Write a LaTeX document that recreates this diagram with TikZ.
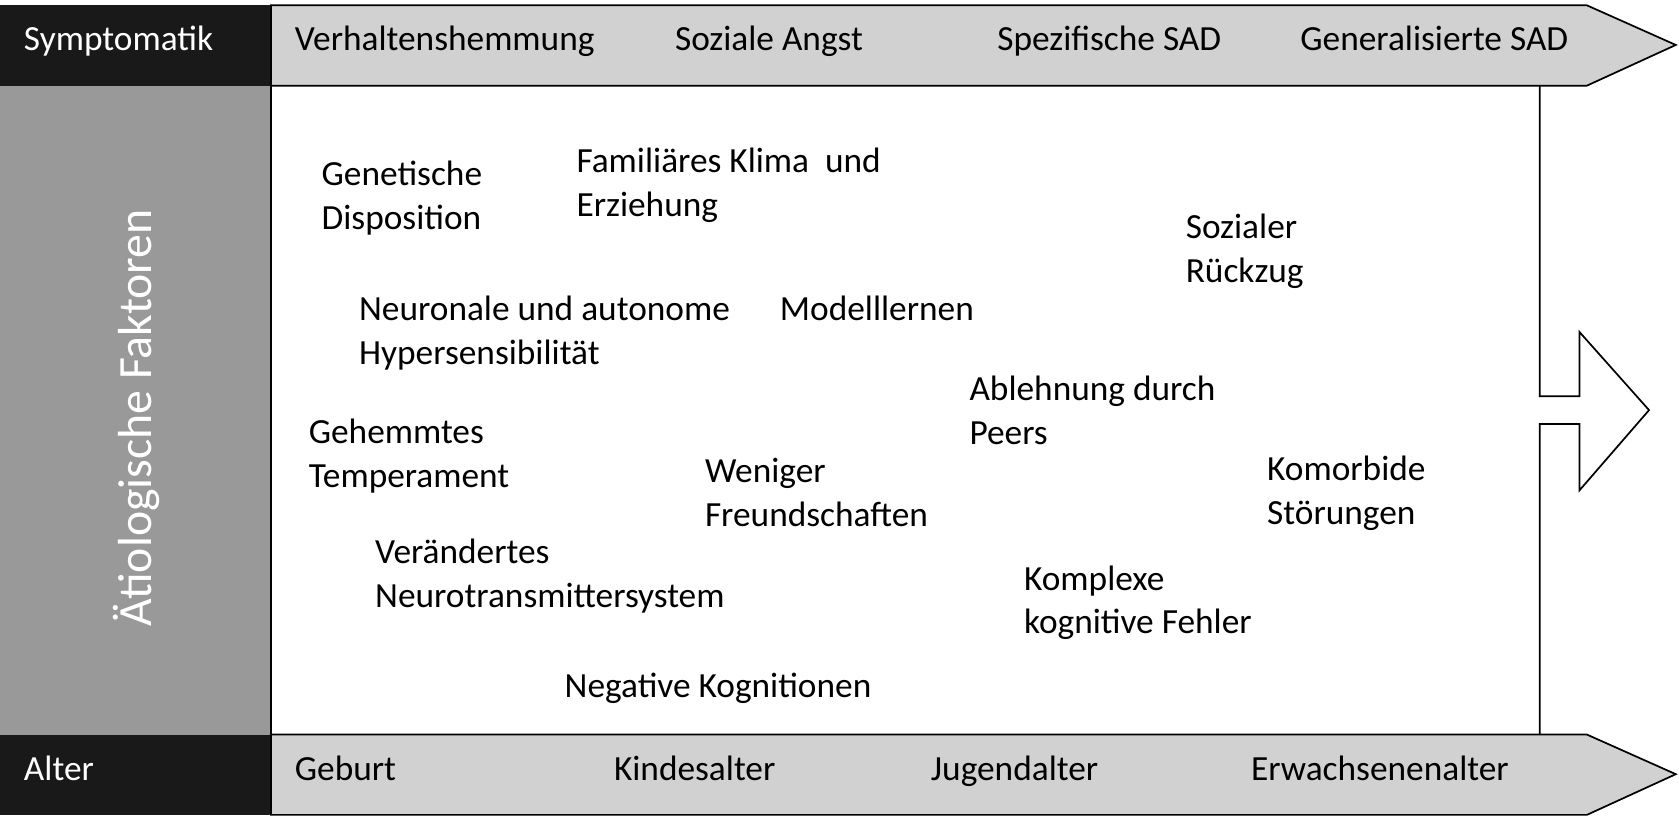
\documentclass[tikz,border=0pt]{standalone}
\usepackage{fontspec}
\setmainfont{Carlito}
\begin{document}
\begin{tikzpicture}[x=0.5pt,y=-0.5pt,
 lbl/.style={anchor=base west,inner sep=0pt,align=left,font=\fontsize{16.5}{20.5}\selectfont},
 band/.style={fill=black!18,draw=black,line width=0.8pt}]
\useasboundingbox (0,0) rectangle (1568,763);
% top band
\fill[black!90] (0,5) rectangle (253,80);
\draw[band] (253,5) -- (1482,5) -- (1565,42) -- (1482,80) -- (253,80) -- cycle;
% bottom band
\fill[black!90] (0,686) rectangle (253,761);
\draw[band] (253,686) -- (1482,686) -- (1565,723) -- (1482,761) -- (253,761) -- cycle;
% left grey
\fill[black!40] (0,80) rectangle (253,686);
\draw[line width=0.8pt] (253,80) -- (253,686);
% right border with arrow
\draw[line width=0.8pt] (1438,80) -- (1438,370) -- (1475,370) -- (1475,310) -- (1540,383) -- (1475,458) -- (1475,396) -- (1438,396) -- (1438,686);
\node[rotate=90,text=white,font=\fontsize{22.3}{26}\selectfont,inner sep=0pt] (af) at (127,390) {Ätiologische Faktoren};
\node[lbl,text=white] (s0) at (22,47) {Symptomatik};
\node[lbl] (s1) at (275,47) {Verhaltenshemmung};
\node[lbl] (s2) at (630,47) {Soziale Angst};
\node[lbl] (s3) at (931,47) {Spezifische SAD};
\node[lbl] (s4) at (1214,47) {Generalisierte SAD};
\node[lbl,text=white] (a0) at (22,729) {Alter};
\node[lbl] (a1) at (275,729) {Geburt};
\node[lbl] (a2) at (573,729) {Kindesalter};
\node[lbl] (a3) at (869,729) {Jugendalter};
\node[lbl] (a4) at (1168,729) {Erwachsenenalter};
\node[lbl] (f1) at (300,214) {Genetische\\Disposition};
\node[lbl] (f2) at (538,202) {Familiäres Klima\ \ und\\Erziehung};
\node[lbl] (f3) at (1107,264) {Sozialer\\Rückzug};
\node[lbl] (f4) at (335,340) {Neuronale und autonome\\Hypersensibilität};
\node[lbl] (f5) at (728,299) {Modelllernen};
\node[lbl] (f6) at (905,415) {Ablehnung durch\\Peers};
\node[lbl] (f7) at (288,455) {Gehemmtes\\Temperament};
\node[lbl] (f8) at (658,492) {Weniger\\Freundschaften};
\node[lbl] (f9) at (1183,490) {Komorbide\\Störungen};
\node[lbl] (f10) at (350,567) {Verändertes\\Neurotransmittersystem};
\node[lbl] (f11) at (956,592) {Komplexe\\kognitive Fehler};
\node[lbl] (f12) at (527,651) {Negative Kognitionen};
\end{tikzpicture}
\end{document}
